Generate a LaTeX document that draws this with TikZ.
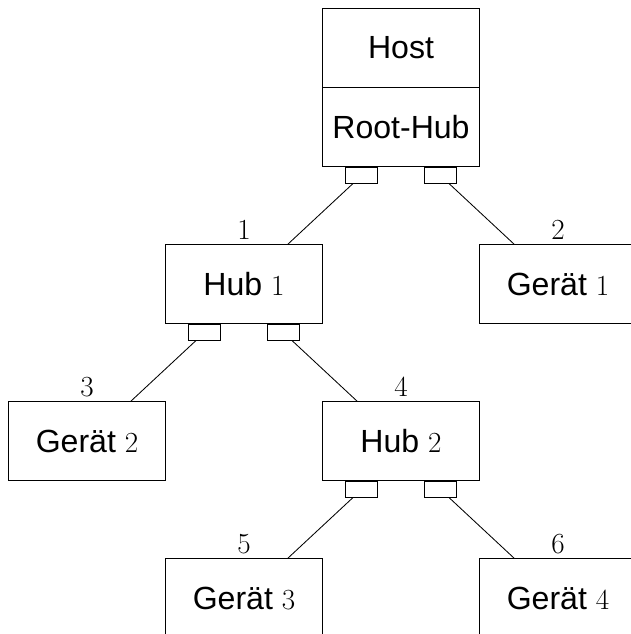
\documentclass[tikz,border=0pt]{standalone}
\usepackage[no-math]{fontspec}
\setmainfont{Liberation Sans}
\usepackage{amsmath}
\usepackage{tikz}

\begin{document}
\begin{tikzpicture}[every node/.style={font=\fontsize{22.8}{27}\selectfont}]
    % Styles
    \tikzstyle{box} = [rectangle, draw=black, semithick, minimum width=3.925cm, minimum height=1.975cm, align=center]
    \tikzstyle{port} = [rectangle, draw=black, semithick, minimum width=0.8cm, minimum height=0.4cm, inner sep=0pt, anchor=north]
    \tikzstyle{link} = [semithick]

    \useasboundingbox (-10.025, -12.675) rectangle (5.75, 3.175);

    % Nodes
    \node[box] (host) at (0, 1.975) {Host};
    \node[box] (root) at (0, 0) {Root-Hub};
    \node[box, label={above:$1$}] (hubA) at (-3.925, -3.925) {Hub $1$};
    \node[box, label={above:$2$}] (devA) at (3.925, -3.925) {Gerät $1$};
    \node[box, label={above:$3$}] (devB) at (-7.85, -7.85) {Gerät $2$};
    \node[box, label={above:$4$}] (hubB) at (0, -7.85) {Hub $2$};
    \node[box, label={above:$5$}] (devC) at (-3.925, -11.775) {Gerät $3$};
    \node[box, label={above:$6$}] (devD) at (3.925, -11.775) {Gerät $4$};

    % Ports
    \node[port] (rootL) at ([xshift=-0.98cm]root.south) {};
    \node[port] (rootR) at ([xshift=0.98cm]root.south) {};
    \node[port] (hubAL) at ([xshift=-0.98cm]hubA.south) {};
    \node[port] (hubAR) at ([xshift=0.98cm]hubA.south) {};
    \node[port] (hubBL) at ([xshift=-0.98cm]hubB.south) {};
    \node[port] (hubBR) at ([xshift=0.98cm]hubB.south) {};

    % Links
    \draw[link] (rootL) -- ([xshift=1.1cm]hubA.north);
    \draw[link] (rootR) -- ([xshift=-1.1cm]devA.north);
    \draw[link] (hubAL) -- ([xshift=1.1cm]devB.north);
    \draw[link] (hubAR) -- ([xshift=-1.1cm]hubB.north);
    \draw[link] (hubBL) -- ([xshift=1.1cm]devC.north);
    \draw[link] (hubBR) -- ([xshift=-1.1cm]devD.north);
\end{tikzpicture}
\end{document}
